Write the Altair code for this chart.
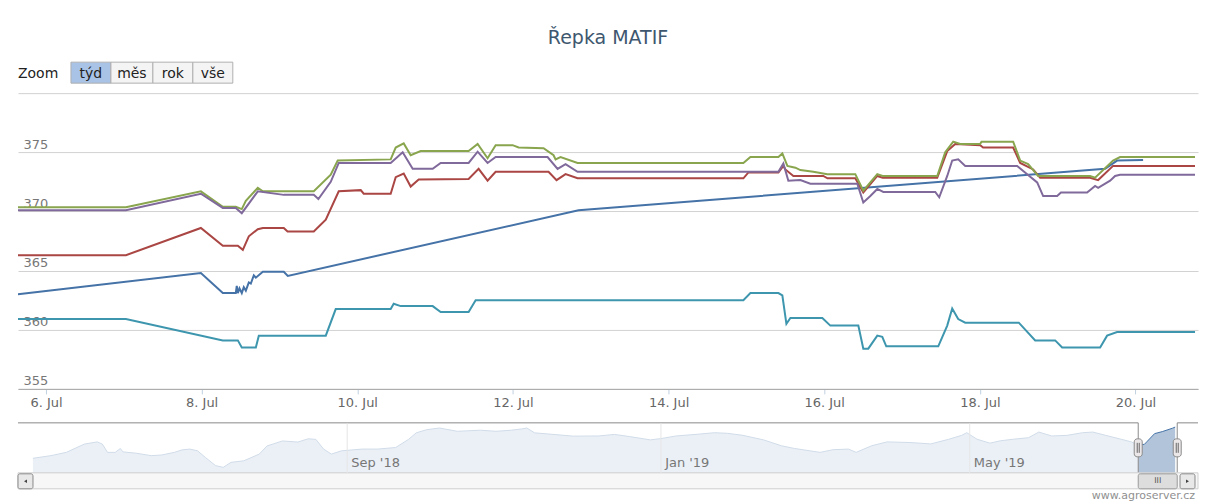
import altair as alt
import pandas as pd

# ---------------- data ----------------
series_names = ["srpen 2019", "listopad 2019", "únor 2020", "květen 2020", "srpen 2020"]
series_colors = ["#4572A7", "#AA4643", "#89A54E", "#80699B", "#3D96AE"]

blue_t = ["2019-07-05 15:22", "2019-07-07 23:46", "2019-07-08 06:32", "2019-07-08 10:32", "2019-07-08 10:50",
          "2019-07-08 11:10", "2019-07-08 11:40", "2019-07-08 12:23", "2019-07-08 13:00", "2019-07-08 13:38",
          "2019-07-08 14:33", "2019-07-08 15:10", "2019-07-08 16:05", "2019-07-08 16:43", "2019-07-08 18:52",
          "2019-07-09 01:20", "2019-07-09 02:34", "2019-07-12 20:14", "2019-07-19 14:37", "2019-07-19 18:19",
          "2019-07-20 02:20"]
blue_v = [363.0, 364.8, 363.1, 363.1, 363.7, 363.1, 363.5, 363.1, 363.6, 363.3, 364.0, 363.9, 364.6, 364.4,
          364.9, 364.9, 364.55, 370.1, 373.6, 374.3, 374.35]

red_t = ["2019-07-05 15:22", "2019-07-07 00:39", "2019-07-07 23:46", "2019-07-08 06:32", "2019-07-08 11:10",
         "2019-07-08 12:42", "2019-07-08 14:33", "2019-07-08 17:19", "2019-07-08 18:52", "2019-07-09 01:20",
         "2019-07-09 02:30", "2019-07-09 10:35", "2019-07-09 14:17", "2019-07-09 18:17", "2019-07-10 01:04",
         "2019-07-10 01:59", "2019-07-10 10:18", "2019-07-10 11:51", "2019-07-10 14:19", "2019-07-10 16:28",
         "2019-07-10 18:56", "2019-07-11 10:20", "2019-07-11 13:25", "2019-07-11 16:11", "2019-07-11 18:40",
         "2019-07-12 10:59", "2019-07-12 13:27", "2019-07-12 16:14", "2019-07-12 19:56", "2019-07-14 23:04",
         "2019-07-15 00:37", "2019-07-15 09:52", "2019-07-15 11:24", "2019-07-15 12:01", "2019-07-15 14:29",
         "2019-07-15 23:43", "2019-07-16 01:00", "2019-07-16 09:35", "2019-07-16 12:03", "2019-07-16 16:22",
         "2019-07-16 18:00", "2019-07-17 10:51", "2019-07-17 13:56", "2019-07-17 16:24", "2019-07-18 00:06",
         "2019-07-18 01:00", "2019-07-18 10:16", "2019-07-18 12:26", "2019-07-18 16:26", "2019-07-18 18:35",
         "2019-07-19 09:59", "2019-07-19 12:28", "2019-07-19 17:05", "2019-07-20 18:21"]
red_v = [366.3, 366.3, 368.6, 367.1, 367.1, 366.75, 367.9, 368.5, 368.6, 368.6, 368.3, 368.3, 369.3, 371.7,
         371.8, 371.5, 371.5, 372.9, 373.2, 372.1, 372.7, 372.75, 373.6, 372.6, 373.35, 373.35, 372.65, 373.15,
         372.8, 372.8, 373.3, 373.3, 373.85, 373.55, 373.0, 373.0, 372.8, 372.8, 371.6, 373.0, 372.85, 372.85,
         375.1, 375.7, 375.6, 375.4, 375.4, 374.1, 373.55, 372.85, 372.85, 372.65, 373.85, 373.85]

green_t = ["2019-07-05 15:22", "2019-07-07 00:39", "2019-07-07 23:46", "2019-07-08 06:32", "2019-07-08 10:32",
           "2019-07-08 12:23", "2019-07-08 13:38", "2019-07-08 17:19", "2019-07-08 18:52", "2019-07-09 10:35",
           "2019-07-09 15:49", "2019-07-09 17:58", "2019-07-10 10:18", "2019-07-10 11:51", "2019-07-10 14:19",
           "2019-07-10 16:28", "2019-07-10 19:33", "2019-07-11 10:20", "2019-07-11 13:07", "2019-07-11 16:11",
           "2019-07-11 18:40", "2019-07-11 23:54", "2019-07-12 01:45", "2019-07-12 09:27", "2019-07-12 12:32",
           "2019-07-12 13:09", "2019-07-12 14:41", "2019-07-12 19:56", "2019-07-14 23:04", "2019-07-15 01:14",
           "2019-07-15 09:52", "2019-07-15 11:05", "2019-07-15 12:38", "2019-07-15 15:06", "2019-07-15 16:38",
           "2019-07-15 20:38", "2019-07-16 00:57", "2019-07-16 09:35", "2019-07-16 12:03", "2019-07-16 16:22",
           "2019-07-16 18:00", "2019-07-17 10:51", "2019-07-17 13:19", "2019-07-17 15:47", "2019-07-17 17:56",
           "2019-07-18 00:06", "2019-07-18 00:30", "2019-07-18 10:16", "2019-07-18 12:26", "2019-07-18 14:53",
           "2019-07-18 17:58", "2019-07-19 09:59", "2019-07-19 11:32", "2019-07-19 17:05", "2019-07-19 19:14",
           "2019-07-20 18:21"]
green_v = [370.35, 370.35, 371.7, 370.4, 370.4, 370.2, 370.9, 372.0, 371.7, 371.7, 373.1, 374.3, 374.4, 375.4,
           375.75, 374.75, 375.1, 375.1, 375.7, 374.5, 375.6, 375.6, 375.4, 375.35, 374.75, 374.4, 374.6, 374.1,
           374.1, 374.6, 374.6, 374.9, 373.85, 373.7, 373.5, 373.35, 373.15, 373.15, 371.75, 373.15, 373.0,
           373.0, 375.0, 375.9, 375.7, 375.7, 375.9, 375.9, 374.3, 374.0, 373.0, 373.0, 372.85, 374.3, 374.6,
           374.6]

purple_t = ["2019-07-05 15:22", "2019-07-07 00:39", "2019-07-07 23:46", "2019-07-08 06:32", "2019-07-08 10:32",
            "2019-07-08 12:23", "2019-07-08 17:19", "2019-07-09 01:20", "2019-07-09 10:35", "2019-07-09 12:00",
            "2019-07-09 15:49", "2019-07-09 18:17", "2019-07-10 10:18", "2019-07-10 14:00", "2019-07-10 17:05",
            "2019-07-10 23:15", "2019-07-11 01:43", "2019-07-11 10:20", "2019-07-11 13:07", "2019-07-11 16:11",
            "2019-07-11 18:40", "2019-07-12 10:41", "2019-07-12 13:46", "2019-07-12 16:14", "2019-07-12 19:56",
            "2019-07-15 09:52", "2019-07-15 11:24", "2019-07-15 12:56", "2019-07-15 16:38", "2019-07-15 19:43",
            "2019-07-16 10:12", "2019-07-16 12:03", "2019-07-16 14:13", "2019-07-16 16:22", "2019-07-16 18:13",
            "2019-07-17 10:14", "2019-07-17 11:28", "2019-07-17 13:56", "2019-07-17 15:28", "2019-07-17 17:19",
            "2019-07-17 19:29", "2019-07-18 11:30", "2019-07-18 14:35", "2019-07-18 17:40", "2019-07-18 19:31",
            "2019-07-18 23:50", "2019-07-19 01:00", "2019-07-19 09:04", "2019-07-19 11:32", "2019-07-19 12:28",
            "2019-07-19 16:10", "2019-07-19 17:42", "2019-07-19 19:14", "2019-07-20 18:21"]
purple_v = [370.1, 370.1, 371.5, 370.3, 370.3, 369.85, 371.7, 371.4, 371.4, 371.05, 372.5, 374.1, 374.1, 375.0,
            373.6, 373.6, 374.1, 374.1, 375.05, 374.1, 374.6, 374.6, 373.6, 374.0, 373.35, 373.35, 374.05, 372.6,
            372.65, 372.35, 372.35, 370.75, 371.3, 371.9, 371.65, 371.65, 371.2, 373.0, 374.3, 374.4, 373.85,
            373.85, 373.15, 372.45, 371.3, 371.3, 371.6, 371.6, 372.15, 372.0, 372.6, 373.0, 373.1, 373.1]

teal_t = ["2019-07-05 15:22", "2019-07-07 00:39", "2019-07-08 06:32", "2019-07-08 11:10", "2019-07-08 12:23",
          "2019-07-08 16:43", "2019-07-08 17:38", "2019-07-09 14:17", "2019-07-09 17:21", "2019-07-10 10:18",
          "2019-07-10 11:14", "2019-07-10 13:23", "2019-07-10 23:15", "2019-07-11 01:43", "2019-07-11 10:20",
          "2019-07-11 12:30", "2019-07-14 23:04", "2019-07-15 01:14", "2019-07-15 09:52", "2019-07-15 11:05",
          "2019-07-15 12:20", "2019-07-15 13:34", "2019-07-15 23:25", "2019-07-16 01:53", "2019-07-16 10:31",
          "2019-07-16 12:03", "2019-07-16 13:35", "2019-07-16 16:22", "2019-07-16 17:54", "2019-07-16 19:08",
          "2019-07-17 11:10", "2019-07-17 13:56", "2019-07-17 15:28", "2019-07-17 17:19", "2019-07-17 19:29",
          "2019-07-18 12:00", "2019-07-18 17:03", "2019-07-18 23:13", "2019-07-19 01:22", "2019-07-19 13:05",
          "2019-07-19 15:14", "2019-07-19 18:19", "2019-07-20 18:21"]
teal_v = [360.9, 360.9, 359.1, 359.1, 358.5, 358.5, 359.5, 359.5, 361.75, 361.75, 362.2, 362.0, 362.0, 361.5,
          361.5, 362.5, 362.5, 363.1, 363.1, 362.9, 360.5, 361.0, 361.0, 360.35, 360.35, 358.4, 358.4, 359.5,
          359.4, 358.6, 358.6, 360.35, 361.8, 360.9, 360.6, 360.6, 359.1, 359.1, 358.5, 358.5, 359.5, 359.8,
          359.8]

series_t = [blue_t, red_t, green_t, purple_t, teal_t]
series_v = [blue_v, red_v, green_v, purple_v, teal_v]

# navigator (whole history of the first series)
nav_d = ["2018-05-02", "2018-05-09", "2018-05-15", "2018-05-22", "2018-05-27", "2018-05-29", "2018-05-31",
         "2018-06-03", "2018-06-05", "2018-06-06", "2018-06-11", "2018-06-17", "2018-06-21", "2018-06-26",
         "2018-06-29", "2018-07-02", "2018-07-05", "2018-07-08", "2018-07-12", "2018-07-15", "2018-07-18",
         "2018-07-23", "2018-07-29", "2018-08-01", "2018-08-07", "2018-08-13", "2018-08-17", "2018-08-20",
         "2018-08-23", "2018-08-26", "2018-08-30", "2018-09-07", "2018-09-13", "2018-09-20", "2018-09-25",
         "2018-09-28", "2018-10-02", "2018-10-07", "2018-10-14", "2018-10-23", "2018-10-29", "2018-11-04",
         "2018-11-08", "2018-11-10", "2018-11-13", "2018-11-21", "2018-11-28", "2018-12-08", "2018-12-14",
         "2018-12-20", "2018-12-28", "2019-01-01", "2019-01-07", "2019-01-16", "2019-01-22", "2019-01-27",
         "2019-02-02", "2019-02-10", "2019-02-17", "2019-02-22", "2019-02-28", "2019-03-04", "2019-03-09",
         "2019-03-15", "2019-03-18", "2019-03-24", "2019-03-30", "2019-04-08", "2019-04-16", "2019-04-23",
         "2019-04-28", "2019-04-30", "2019-05-04", "2019-05-09", "2019-05-13", "2019-05-18", "2019-05-24",
         "2019-05-28", "2019-06-02", "2019-06-08", "2019-06-14", "2019-06-18", "2019-06-23", "2019-06-29",
         "2019-07-03", "2019-07-05", "2019-07-08", "2019-07-09", "2019-07-12", "2019-07-15", "2019-07-19",
         "2019-07-20"]
nav_v = [354.3, 356.0, 358.1, 363.4, 364.8, 363.4, 358.1, 358.1, 360.6, 358.4, 357.6, 356.0, 356.4, 358.1,
         359.7, 360.2, 359.1, 354.9, 349.6, 348.5, 351.7, 352.7, 357.0, 362.2, 365.4, 364.7, 366.8, 366.4,
         360.2, 357.0, 359.1, 360.2, 360.2, 361.2, 366.4, 370.6, 372.6, 373.7, 371.6, 372.3, 371.6, 372.3,
         373.1, 373.7, 370.6, 369.5, 368.5, 368.6, 369.6, 368.2, 366.1, 366.9, 368.6, 369.8, 370.7, 370.3,
         369.0, 366.1, 362.3, 360.6, 359.1, 358.1, 359.8, 360.2, 358.1, 362.3, 364.8, 364.4, 363.5, 366.5,
         369.0, 370.7, 366.5, 364.0, 365.5, 366.5, 367.5, 371.1, 368.6, 369.0, 370.7, 371.1, 369.0, 366.5,
         364.8, 363.0, 363.2, 364.9, 370.1, 371.4, 373.6, 374.3]

y_ticks = [355, 360, 365, 370, 375, 380]
x_tick_days = [6, 8, 10, 12, 14, 16, 18, 20]
nav_ticks = [(2018, 9, 1), (2019, 1, 1), (2019, 5, 1)]

# visible range (also the navigator selection)
view_start = "2019-07-05 15:22"
view_end = "2019-07-20 19:16"
nav_start = "2018-04-26 05:00"
nav_end = "2019-07-28 21:00"

zoom_buttons = ["týd", "měs", "rok", "vše"]

# ---------------- helpers ----------------
def dt(s):
    p = pd.Timestamp(s)
    return alt.DateTime(year=p.year, month=p.month, date=p.day, hours=p.hour, minutes=p.minute)

FONT = "DejaVu Sans"
W = 1181
H_MAIN = 296
H_NAV = 50
one = alt.Data(values=[{"a": 1}])

# ---------------- main chart ----------------
x_main = alt.X(
    "t:T",
    scale=alt.Scale(domain=[dt(view_start), dt(view_end)]),
    axis=alt.Axis(
        values=[alt.DateTime(year=2019, month=7, date=d) for d in x_tick_days],
        format="%-d. %b", title=None, grid=False,
        domainColor="#A8A8A8", tickColor="#C0D0E0", tickSize=5,
        labelFontSize=13, labelColor="#666666", labelFont=FONT, labelPadding=3,
    ),
)
y_main = alt.Y(
    "v:Q",
    scale=alt.Scale(domain=[355, 380], zero=False, nice=False),
    axis=alt.Axis(
        values=y_ticks, title=None, grid=True, gridColor="#D2D2D2",
        domain=False, ticks=False, tickSize=0,
        labelAlign="left", labelBaseline="bottom", labelPadding=-5, labelOffset=-1,
        labelExpr="datum.value == 380 ? '' : datum.label",
        labelFontSize=13, labelColor="#777777", labelFont=FONT,
    ),
)

line_layers = []
for name, col, ts, vs in zip(series_names, series_colors, series_t, series_v):
    df = pd.DataFrame({"t": pd.to_datetime(ts), "v": vs, "s": name})
    line_layers.append(
        alt.Chart(df).mark_line(color=col, strokeWidth=2, clip=True).encode(x=x_main, y=y_main)
    )

# zoom buttons (decoration above the plot)
btn_edges = [53, 93, 135, 175, 215]
deco = [
    alt.Chart(one).mark_text(text="Zoom", align="left", baseline="alphabetic", fontSize=14,
                             font=FONT, color="#222222").encode(x=alt.value(0), y=alt.value(-15))
]
for i, lab in enumerate(zoom_buttons):
    fill = "#A9C3E6" if i == 0 else "#F4F4F4"
    deco.append(
        alt.Chart(one).mark_rect(fill=fill, stroke="#B0B0B0", strokeWidth=1).encode(
            x=alt.value(btn_edges[i]), x2=alt.value(btn_edges[i + 1]),
            y=alt.value(-31), y2=alt.value(-10))
    )
    deco.append(
        alt.Chart(one).mark_text(text=lab, align="center", baseline="alphabetic", fontSize=14,
                                 font=FONT, color="#222222").encode(
            x=alt.value((btn_edges[i] + btn_edges[i + 1]) / 2), y=alt.value(-15))
    )

main = alt.layer(*line_layers, *deco).properties(width=W, height=H_MAIN)

# ---------------- navigator ----------------
nav_scale = alt.Scale(domain=[dt(nav_start), dt(nav_end)])
nav_axis = alt.Axis(
    values=[alt.DateTime(year=y, month=m, date=d) for (y, m, d) in nav_ticks],
    format="%b '%y", title=None, grid=True, gridColor="#E6E6E6",
    domain=False, ticks=False, tickSize=0, zindex=1,
    labelAlign="left", labelBaseline="alphabetic", labelPadding=-6, labelOffset=4,
    labelFontSize=13, labelColor="#777777", labelFont=FONT,
)
nav_df = pd.DataFrame({"d": pd.to_datetime(nav_d), "v": nav_v})
x_nav = alt.X("d:T", scale=nav_scale, axis=nav_axis)
y_nav = alt.Y("v:Q", scale=alt.Scale(domain=[345, 377], zero=False, nice=False), axis=None)

nav_area = alt.Chart(nav_df).mark_area(color="#4572A7", fillOpacity=0.42, clip=True).encode(
    x=x_nav, y=y_nav, y2=alt.value(H_NAV))
nav_line = alt.Chart(nav_df).mark_line(color="#4572A7", strokeWidth=1, clip=True).encode(x=x_nav, y=y_nav)

sel_s = pd.Timestamp(view_start)
sel_e = pd.Timestamp(view_end)
ns = pd.Timestamp(nav_start)
ne = pd.Timestamp(nav_end)
mask_df = pd.DataFrame({"a": [ns, sel_e], "b": [sel_s, ne]})
hand_df = pd.DataFrame({"h": [sel_s, sel_e]})
thumb_df = pd.DataFrame({"a": [sel_s], "b": [sel_e], "m": [sel_s + (sel_e - sel_s) / 2]})

xa = alt.X("a:T", scale=nav_scale, axis=nav_axis)
xb = alt.X2("b")
xh = alt.X("h:T", scale=nav_scale, axis=nav_axis)

mask = alt.Chart(mask_df).mark_rect(fill="white", opacity=0.75).encode(
    x=xa, x2=xb, y=alt.value(0), y2=alt.value(H_NAV))
outline_h = alt.Chart(mask_df).mark_rule(color="#8A8A8A", strokeWidth=1).encode(
    x=xa, x2=xb, y=alt.value(0))
outline_v = alt.Chart(hand_df).mark_rule(color="#8A8A8A", strokeWidth=1).encode(
    x=xh, y=alt.value(0), y2=alt.value(H_NAV))

# scrollbar
track = alt.Chart(one).mark_rect(fill="#F7F7F7", stroke="#CFCFCF", strokeWidth=1).encode(
    x=alt.value(0), x2=alt.value(W), y=alt.value(H_NAV), y2=alt.value(H_NAV + 16))
thumb = alt.Chart(thumb_df).mark_rect(fill="#DDDDDD", stroke="#9A9A9A", strokeWidth=1, cornerRadius=2).encode(
    x=xa, x2=xb, y=alt.value(H_NAV + 1), y2=alt.value(H_NAV + 16))
grip = alt.Chart(thumb_df).mark_text(text="III", fontSize=8, color="#555555", font=FONT,
                                     baseline="middle", align="center").encode(
    x=alt.X("m:T", scale=nav_scale, axis=nav_axis), y=alt.value(H_NAV + 8.5))
btn_l = alt.Chart(one).mark_rect(fill="#E8E8E8", stroke="#8A8A8A", strokeWidth=1, cornerRadius=2).encode(
    x=alt.value(0), x2=alt.value(15), y=alt.value(H_NAV + 1), y2=alt.value(H_NAV + 16))
btn_r = alt.Chart(one).mark_rect(fill="#E8E8E8", stroke="#8A8A8A", strokeWidth=1, cornerRadius=2).encode(
    x=alt.value(W - 18), x2=alt.value(W - 3), y=alt.value(H_NAV + 1), y2=alt.value(H_NAV + 16))
arr_l = alt.Chart(one).mark_point(shape="triangle-left", filled=True, size=12, color="#444444", opacity=1).encode(
    x=alt.value(7.5), y=alt.value(H_NAV + 8.5))
arr_r = alt.Chart(one).mark_point(shape="triangle-right", filled=True, size=12, color="#444444", opacity=1).encode(
    x=alt.value(W - 10.5), y=alt.value(H_NAV + 8.5))

handles = alt.Chart(hand_df).mark_rect(fill="#EBE7E8", stroke="#8A8A8A", strokeWidth=1, cornerRadius=3,
                                       xOffset=-4, x2Offset=4).encode(
    x=xh, x2=alt.X2("h"), y=alt.value(16), y2=alt.value(34))
grip_l = alt.Chart(hand_df).mark_rule(color="#666666", strokeWidth=1, xOffset=-1).encode(
    x=xh, y=alt.value(20), y2=alt.value(30))
grip_r = alt.Chart(hand_df).mark_rule(color="#666666", strokeWidth=1, xOffset=1).encode(
    x=xh, y=alt.value(20), y2=alt.value(30))

credits = alt.Chart(one).mark_text(text="www.agroserver.cz", align="right", baseline="alphabetic",
                                   fontSize=11, font=FONT, color="#909090").encode(
    x=alt.value(W - 3), y=alt.value(H_NAV + 26))

nav = alt.layer(
    nav_area, nav_line, mask, outline_h, outline_v, track, thumb, grip, btn_l, btn_r, arr_l, arr_r,
    handles, grip_l, grip_r, credits,
).properties(width=W, height=H_NAV)

chart = (
    alt.vconcat(main, nav, spacing=12)
    .properties(
        title=alt.TitleParams("Řepka MATIF", fontSize=19, font=FONT, fontWeight="normal",
                              color="#3E576F", anchor="middle", offset=14),
        padding={"left": 9, "top": 20, "right": 0, "bottom": 0},
        background="white",
    )
    .configure_view(strokeWidth=0)
)

chart.save("out.html", embed_options={"renderer": "svg", "actions": False})
